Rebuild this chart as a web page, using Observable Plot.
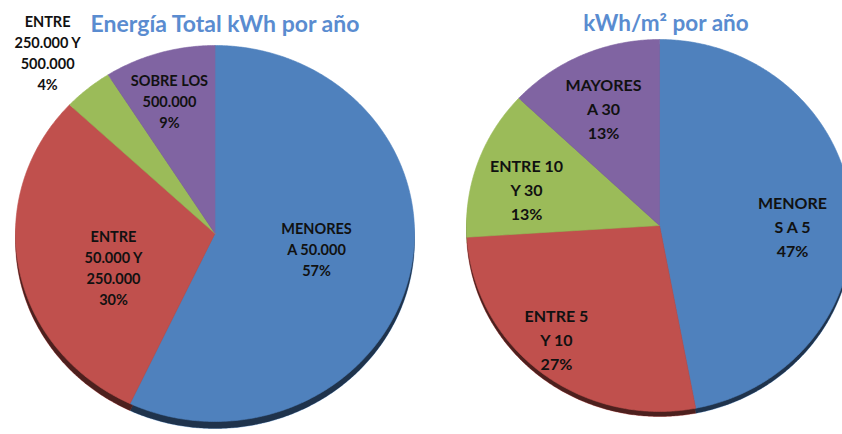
<!DOCTYPE html>
<html><head><meta charset="utf-8">
<script src="https://cdn.jsdelivr.net/npm/d3@7"></script>
<script src="https://cdn.jsdelivr.net/npm/@observablehq/plot@0.6"></script>
<style>
body{margin:0;background:#fff;}
#wrap{position:relative;width:842px;height:434px;overflow:hidden;background:#fff;font-family:Lato,"Open Sans",sans-serif;}
.panel{position:absolute;top:0;width:421px;height:434px;overflow:hidden;}
.title{position:absolute;font-weight:bold;color:#5a8cd0;white-space:nowrap;transform:translateX(-50%);line-height:1;}
</style></head><body>
<div id="wrap"></div>
<script>
// ---- data ----
const leftTitle = "Energía Total kWh por año";
const leftCategories = ["MENORES A 50.000", "ENTRE 50.000 Y 250.000", "ENTRE 250.000 Y 500.000", "SOBRE LOS 500.000"];
const leftLabels = ["MENORES\nA 50.000\n57%", "ENTRE\n50.000 Y\n250.000\n30%", "ENTRE\n250.000 Y\n500.000\n4%", "SOBRE LOS\n500.000\n9%"];
const leftValues = [57, 30, 4, 9];

const rightTitle = "kWh/m² por año";
const rightCategories = ["MENORES A 5", "ENTRE 5 Y 10", "ENTRE 10 Y 30", "MAYORES A 30"];
const rightLabels = ["MENORE\nS A 5\n47%", "ENTRE 5\nY 10\n27%", "ENTRE 10\nY 30\n13%", "MAYORES\nA 30\n13%"];
const rightValues = [47, 27, 13, 13];

const sliceColors = ["#4f81bd", "#c0504d", "#9bbb59", "#8064a2"];

// ---- layout (not data) ----
const W = 421, H = 434;
const leftLayout = {cx: 214.5, cy: 233, rx: 199.5, ry: 188, depth: 7, fontSize: 14.5, lineHeight: 21,
  labelR: [0.515, 0.539, 1.279, 0.743], labelShift: [-3.7, -8.5, -1.4, -1.7],
  titleX: 225, titleY: 12, titleSize: 23};
const rightLayout = {cx: 238, cy: 225, rx: 193, ry: 186, depth: 5, fontSize: 16, lineHeight: 24,
  labelR: [0.689, 0.809, 0.718, 0.700], labelShift: [5.4, 3.5, -3.5, -1.1],
  titleX: 245, titleY: 12, titleSize: 22.5};

function buildPie(categories, labels, values, L) {
  const total = d3.sum(values);
  let acc = 0;
  const polys = [], texts = [];
  const deg = Math.PI / 180;
  categories.forEach((c, i) => {
    const a0 = acc / total * 2 * Math.PI;
    acc += values[i];
    const a1 = acc / total * 2 * Math.PI;
    const n = Math.max(2, Math.ceil((a1 - a0) / (0.5 * deg)));
    polys.push({category: c, x: 0, y: 0});
    for (let k = 0; k <= n; k++) {
      const a = a0 + (a1 - a0) * k / n;
      polys.push({category: c, x: Math.sin(a), y: Math.cos(a)});
    }
    polys.push({category: c, x: 0, y: 0});
    const mid = (a0 + a1) / 2 + L.labelShift[i] * deg;
    texts.push({category: c, text: labels[i], x: L.labelR[i] * Math.sin(mid), y: L.labelR[i] * Math.cos(mid)});
  });
  const depth = L.depth / L.ry;
  const shadow = polys.map(d => ({...d, y: d.y - depth}));
  return Plot.plot({
    width: W, height: H, margin: 0,
    style: {background: "transparent", overflow: "hidden"},
    x: {domain: [-L.cx / L.rx, (W - L.cx) / L.rx], axis: null},
    y: {domain: [-(H - L.cy) / L.ry, L.cy / L.ry], axis: null},
    color: {domain: categories, range: sliceColors},
    marks: [
      Plot.line(shadow, {x: "x", y: "y", z: "category", fill: "category", stroke: "category", strokeWidth: 0.5}),
      Plot.line(shadow, {x: "x", y: "y", z: "category", fill: "#000", fillOpacity: 0.6, stroke: "none"}),
      Plot.line(polys, {x: "x", y: "y", z: "category", fill: "category", stroke: "category", strokeWidth: 0.6}),
      Plot.text(texts, {x: "x", y: "y", text: "text", fill: "#111", fontSize: L.fontSize, fontWeight: "bold",
        fontFamily: "Lato, 'Open Sans', sans-serif", lineHeight: L.lineHeight / L.fontSize, lineAnchor: "middle"})
    ]
  });
}

const wrap = document.getElementById("wrap");
function addPanel(left, svg, title, L) {
  const p = document.createElement("div");
  p.className = "panel";
  p.style.left = left + "px";
  p.appendChild(svg);
  const t = document.createElement("div");
  t.className = "title";
  t.textContent = title;
  t.style.left = L.titleX + "px";
  t.style.top = L.titleY + "px";
  t.style.fontSize = L.titleSize + "px";
  p.appendChild(t);
  wrap.appendChild(p);
}
addPanel(0, buildPie(leftCategories, leftLabels, leftValues, leftLayout), leftTitle, leftLayout);
addPanel(421, buildPie(rightCategories, rightLabels, rightValues, rightLayout), rightTitle, rightLayout);
</script>
</body></html>
